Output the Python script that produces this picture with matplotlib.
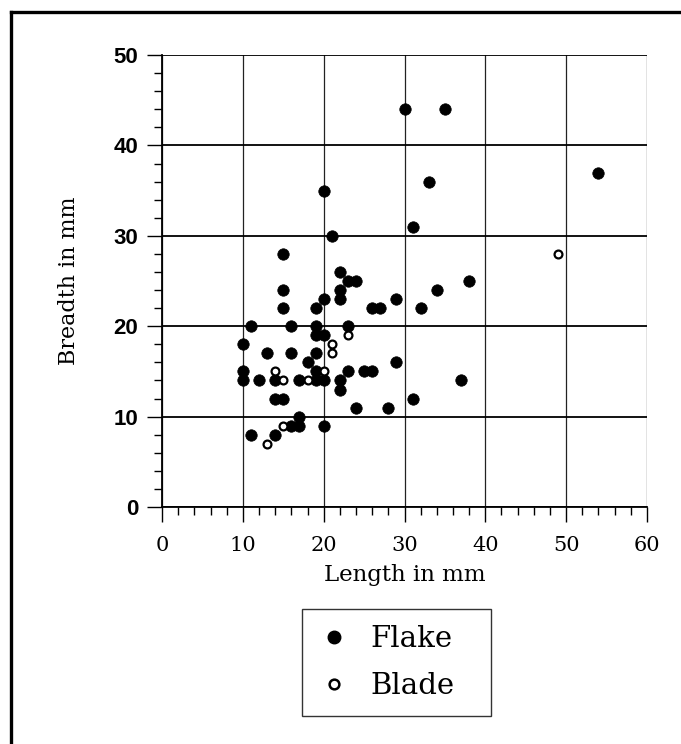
import numpy as np
import matplotlib
matplotlib.use('Agg')
import matplotlib.pyplot as plt
from matplotlib.lines import Line2D
from matplotlib.ticker import MultipleLocator

# flakes: length, breadth (mm)
flake_len = [10, 10, 10, 11, 11, 12, 13, 14, 14, 14, 15, 15, 15, 15, 16, 16, 16, 17, 17, 17,
             18, 19, 19, 19, 19, 19, 19, 20, 20, 20, 20, 20, 21, 22, 22, 22, 22, 22, 23, 23,
             23, 24, 24, 25, 26, 26, 27, 28, 29, 29, 30, 31, 31, 32, 33, 34, 35, 37, 38, 54]
flake_br = [18, 15, 14, 20, 8, 14, 17, 14, 12, 8, 28, 24, 22, 12, 20, 17, 9, 14, 10, 9,
            16, 22, 20, 19, 17, 15, 14, 35, 23, 19, 14, 9, 30, 26, 24, 23, 14, 13, 25, 20,
            15, 25, 11, 15, 22, 15, 22, 11, 23, 16, 44, 31, 12, 22, 36, 24, 44, 14, 25, 37]

# blades
blade_len = [13, 14, 15, 15, 18, 20, 21, 21, 23, 49]
blade_br = [7, 15, 14, 9, 14, 15, 18, 17, 19, 28]

x_ticks = [0, 10, 20, 30, 40, 50, 60]
y_ticks = [0, 10, 20, 30, 40, 50]
labels = ['Flake', 'Blade']

serif = 'DejaVu Serif'
sans = 'Liberation Sans'

fig = plt.figure(figsize=(6.81, 7.44), dpi=100)
ax = fig.add_axes([0.238, 0.3185, 0.712, 0.6075])

ax.scatter(flake_len, flake_br, s=68, color='black', edgecolors='black', linewidths=0.5,
           zorder=3)
ax.scatter(blade_len, blade_br, s=32, facecolors='white', edgecolors='black', linewidths=1.6,
           zorder=4)

ax.set_xlim(0, 60)
ax.set_ylim(0, 50)
ax.set_xticks(x_ticks)
ax.set_yticks(y_ticks)
ax.xaxis.set_minor_locator(MultipleLocator(2))
ax.yaxis.set_minor_locator(MultipleLocator(2))
ax.tick_params(which='major', direction='out', length=11, width=1.0, color='black')
ax.tick_params(which='minor', direction='out', length=5.5, width=1.0, color='black')
ax.tick_params(axis='x', which='major', pad=10)
ax.tick_params(axis='y', which='major', pad=6)

for lab in ax.get_xticklabels():
    lab.set_fontfamily(serif)
    lab.set_fontsize(15)
for lab in ax.get_yticklabels():
    lab.set_fontfamily(sans)
    lab.set_fontsize(16)
    lab.set_fontweight('bold')

ax.grid(True, which='major', axis='y', color='black', linewidth=1.3)
ax.grid(True, which='major', axis='x', color='#222222', linewidth=0.9)
ax.set_axisbelow(True)
for side in ['top', 'right']:
    ax.spines[side].set_visible(False)
for side in ['left', 'bottom']:
    ax.spines[side].set_linewidth(1.3)

ax.set_xlabel('Length in mm', fontfamily=serif, fontsize=16.5, labelpad=6)
ax.set_ylabel('Breadth in mm', fontfamily=serif, fontsize=16, labelpad=24)

handles = [Line2D([], [], linestyle='none', marker='o', markersize=9, color='black'),
           Line2D([], [], linestyle='none', marker='o', markersize=7, markerfacecolor='white',
                  markeredgecolor='black', markeredgewidth=1.8)]
leg = fig.legend(handles, labels, loc='upper left',
                 bbox_to_anchor=(0.4435, 0.0363, 0.2775, 0.1452),
                 mode='expand', borderaxespad=0, frameon=True, fancybox=False,
                 edgecolor='black', prop={'family': serif, 'size': 21},
                 handletextpad=0.68, borderpad=0.55, labelspacing=0.65, handlelength=1.1)
leg.get_frame().set_linewidth(1.0)

# outer page frame (top and left edges)
fig.add_artist(Line2D([0.016, 1.0], [0.984, 0.984], transform=fig.transFigure,
                      color='black', linewidth=2.4))
fig.add_artist(Line2D([0.016, 0.016], [0.0, 0.984], transform=fig.transFigure,
                      color='black', linewidth=2.4))

plt.savefig('out.png', dpi=100)
